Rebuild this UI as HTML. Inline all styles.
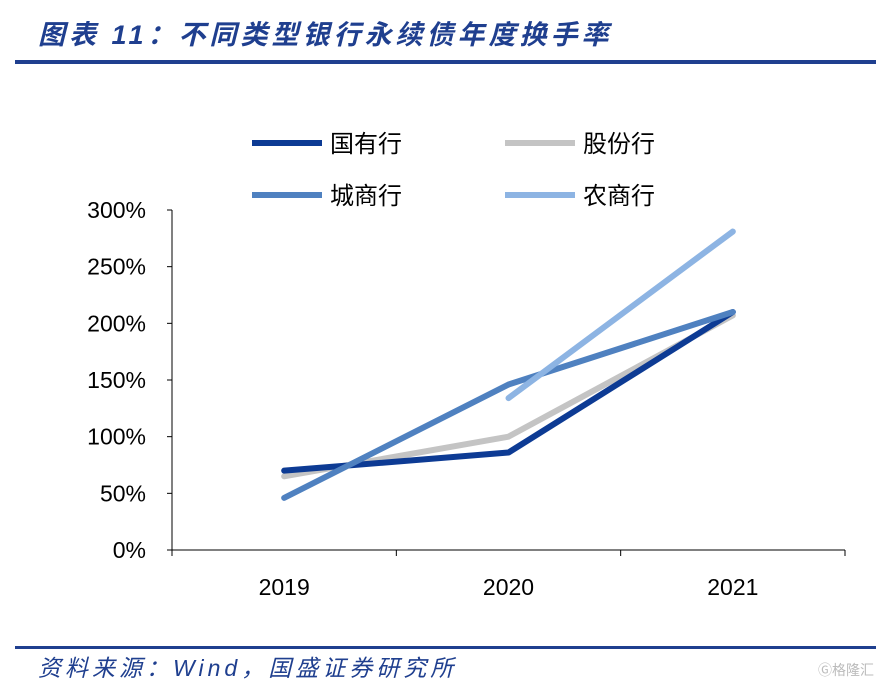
<!DOCTYPE html>
<html><head><meta charset="utf-8"><style>
body{margin:0;background:#fff;width:889px;height:686px;overflow:hidden;font-family:"Liberation Sans","Noto Sans CJK SC",sans-serif;}
</style></head><body>
<svg width="889" height="686" xmlns="http://www.w3.org/2000/svg">
<text x="38" y="44" font-size="27" letter-spacing="4" font-weight="bold" font-style="italic" fill="#1f3f8f" font-family="Liberation Sans,Noto Sans CJK SC,sans-serif">图表 11：不同类型银行永续债年度换手率</text>
<rect x="15" y="60" width="861" height="4" fill="#1f3f8f"/>
<rect x="15" y="646" width="861" height="3" fill="#1f3f8f"/>
<text x="38" y="676" font-size="23" letter-spacing="4" font-style="italic" fill="#1f3f8f" font-family="Liberation Sans,Noto Sans CJK SC,sans-serif">资料来源：Wind，国盛证券研究所</text>
<text x="818" y="675" font-size="14" fill="#bbb" font-family="Noto Sans CJK SC,sans-serif">Ⓖ格隆汇</text>
<g id="axes"></g>
<g id="series"></g>
<g id="legend"></g>
</svg>
<script>
const categories=["2019","2020","2021"];
const yTicks=[0,50,100,150,200,250,300];
const names=["国有行","股份行","城商行","农商行"];
const guoyou=[70,86,210];
const gufen=[65,100,207];
const chengshang=[46,146,210];
const nongshang=[null,134,281];
const colors=["#0d3b94","#c4c4c4","#4f81c0","#8db4e3"];
const NS="http://www.w3.org/2000/svg";
const x0=172,x1=845,yb=550,yt=210;
const band=(x1-x0)/categories.length;
const X=i=>x0+band*(i+0.5);
const Y=v=>yb-(v/300)*(yb-yt);
function mk(t,a,p){const e=document.createElementNS(NS,t);for(const k in a)e.setAttribute(k,a[k]);p.appendChild(e);return e;}
const ax=document.getElementById('axes');
let l=mk('line',{x1:x0,y1:yt,x2:x0,y2:yb,stroke:'#000','stroke-width':1},ax);


l=mk('line',{x1:x0,y1:yb,x2:x1,y2:yb,stroke:'#000','stroke-width':1},ax);


yTicks.forEach(v=>{const t=mk('text',{x:x0-26,y:Y(v)+8,'text-anchor':'end','font-size':23,fill:'#000'},ax);t.textContent=v+'%';


mk('line',{x1:x0-5,y1:Y(v),x2:x0,y2:Y(v),stroke:'#000'},ax);});
for(let i=0;i<=categories.length;i++){mk('line',{x1:x0+band*i,y1:yb,x2:x0+band*i,y2:yb+6,stroke:'#000'},ax);}
categories.forEach((c,i)=>{const t=mk('text',{x:X(i),y:595,'text-anchor':'middle','font-size':23,fill:'#000'},ax);t.textContent=c;

});
const sg=document.getElementById('series');
[guoyou,gufen,chengshang,nongshang].forEach((d,s)=>{const pts=[];d.forEach((v,i)=>{if(v!==null)pts.push(X(i)+','+Y(v));});
const p=mk('polyline',{points:pts.join(' '),fill:'none',stroke:colors[s],'stroke-width':6,'stroke-linecap':'round','stroke-linejoin':'round'},sg);

});
sg.insertBefore(sg.children[1],sg.children[0]);
const lg=document.getElementById('legend');
const lp=[[252,143],[505,143],[252,195],[505,195]];
names.forEach((n,s)=>{const g=mk('g',{},lg);


mk('line',{x1:lp[s][0],y1:lp[s][1],x2:lp[s][0]+70,y2:lp[s][1],stroke:colors[s],'stroke-width':6},g);
const t=mk('text',{x:lp[s][0]+78,y:lp[s][1]+9,'font-size':24,fill:'#000'},g);t.textContent=n;});
</script>
</body></html>
